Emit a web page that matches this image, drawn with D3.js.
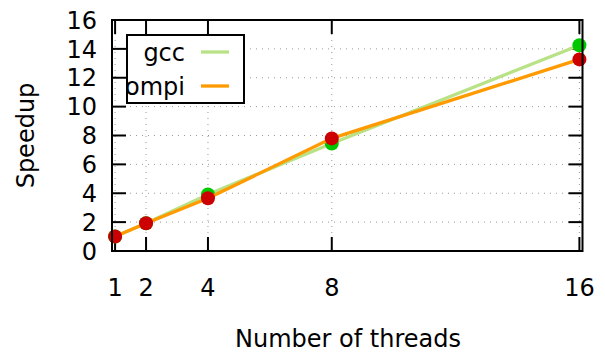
<!DOCTYPE html>
<html>
<head>
<meta charset="utf-8">
<script src="https://cdn.jsdelivr.net/npm/d3@7"></script>
<style>
  body { margin: 0; background: #fff; }
  text { font-family: "DejaVu Sans", sans-serif; font-size: 24px; fill: #000; }
</style>
</head>
<body>
<svg id="chart" width="605" height="356"></svg>
<script>
// chart data
const threads = [1, 2, 4, 8, 16];
const gcc = [1.0, 1.92, 3.92, 7.45, 14.25];
const ompi = [1.0, 1.92, 3.65, 7.8, 13.27];
const yTicks = [0, 2, 4, 6, 8, 10, 12, 14, 16];

const svg = d3.select("#chart");
const pLeft = 112, pRight = 582.5, pTop = 20, pBottom = 251;

const x = d3.scaleLinear().domain([0.9, 16.1]).range([pLeft, pRight]);
const y = d3.scaleLinear().domain([0, 16]).range([pBottom, pTop]);

// grid
const grid = svg.append("g")
  .attr("stroke", "#999")
  .attr("stroke-width", 1)
  .attr("stroke-dasharray", "1,5");
grid.selectAll("line.h")
  .data(yTicks.filter(d => d > 0 && d < 16))
  .enter().append("line")
  .attr("x1", pLeft).attr("x2", pRight)
  .attr("y1", d => y(d)).attr("y2", d => y(d));
grid.selectAll("line.v")
  .data(threads)
  .enter().append("line")
  .attr("x1", d => x(d)).attr("x2", d => x(d))
  .attr("y1", pBottom).attr("y2", pTop);

// tick marks (all four sides, gnuplot style)
const ticks = svg.append("g").attr("stroke", "#000").attr("stroke-width", 2);
const tl = 14;
threads.forEach(t => {
  ticks.append("line").attr("x1", x(t)).attr("x2", x(t)).attr("y1", pBottom).attr("y2", pBottom - tl);
  ticks.append("line").attr("x1", x(t)).attr("x2", x(t)).attr("y1", pTop).attr("y2", pTop + tl);
});
yTicks.forEach(v => {
  ticks.append("line").attr("x1", pLeft).attr("x2", pLeft + tl).attr("y1", y(v)).attr("y2", y(v));
  ticks.append("line").attr("x1", pRight).attr("x2", pRight - tl).attr("y1", y(v)).attr("y2", y(v));
});

// tick labels
svg.append("g").selectAll("text")
  .data(yTicks)
  .enter().append("text")
  .attr("x", 97)
  .attr("y", d => y(d))
  .attr("dy", "0.36em")
  .attr("text-anchor", "end")
  .text(d => d);
svg.append("g").selectAll("text")
  .data(threads)
  .enter().append("text")
  .attr("x", d => x(d))
  .attr("y", 296)
  .attr("text-anchor", "middle")
  .text(d => d);

// axis titles
svg.append("text")
  .attr("x", 348).attr("y", 347)
  .attr("text-anchor", "middle")
  .text("Number of threads");
svg.append("text")
  .attr("transform", "translate(34," + ((pTop + pBottom) / 2) + ") rotate(-90)")
  .attr("text-anchor", "middle")
  .text("Speedup");

// series
const line = d3.line().x((d, i) => x(threads[i])).y(d => y(d));
const series = [
  { name: "gcc", values: gcc, line: "#b8e285", point: "#00c800" },
  { name: "ompi", values: ompi, line: "#ff9a00", point: "#cc0000" }
];

series.forEach(s => {
  svg.append("path")
    .datum(s.values)
    .attr("fill", "none")
    .attr("stroke", s.line)
    .attr("stroke-width", 3.3)
    .attr("d", line);
  svg.append("g").selectAll("circle")
    .data(s.values)
    .enter().append("circle")
    .attr("cx", (d, i) => x(threads[i]))
    .attr("cy", d => y(d))
    .attr("r", 7)
    .attr("fill", s.point);
});

// frame
svg.append("rect")
  .attr("x", pLeft).attr("y", pTop)
  .attr("width", pRight - pLeft).attr("height", pBottom - pTop)
  .attr("fill", "none").attr("stroke", "#000").attr("stroke-width", 2);

// legend
const lg = svg.append("g");
lg.append("rect")
  .attr("x", 127).attr("y", 35)
  .attr("width", 117).attr("height", 68)
  .attr("fill", "#fff").attr("stroke", "#000").attr("stroke-width", 2);
series.forEach((s, i) => {
  const ly = [52, 86][i];
  lg.append("text")
    .attr("x", 185).attr("y", ly)
    .attr("dy", "0.36em")
    .attr("text-anchor", "end")
    .text(s.name);
  lg.append("line")
    .attr("x1", 201).attr("x2", 229)
    .attr("y1", ly).attr("y2", ly)
    .attr("stroke", s.line).attr("stroke-width", 3.3);
});
</script>
</body>
</html>
